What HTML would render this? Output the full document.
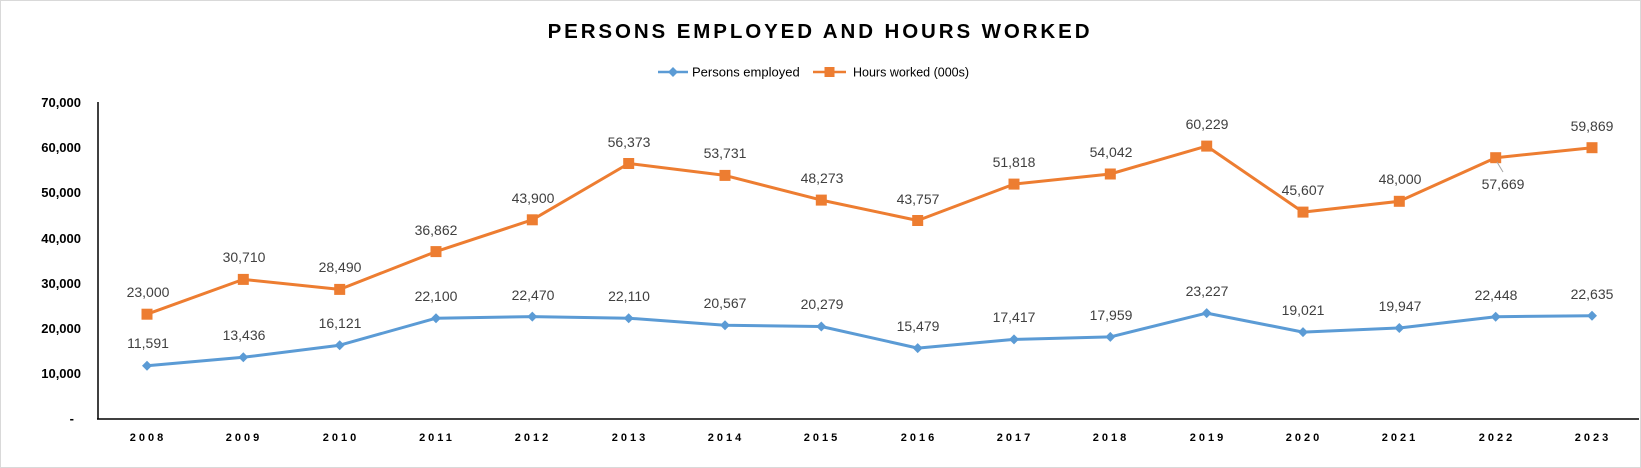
<!DOCTYPE html>
<html><head><meta charset="utf-8"><style>
html,body{margin:0;padding:0;background:#fff}
svg{display:block}
text{font-family:"Liberation Sans",sans-serif}
.dl{font-size:14px;fill:#404040;text-anchor:middle}
.yl{font-size:13px;font-weight:bold;fill:#000;text-anchor:end}
.xl{font-size:11px;font-weight:bold;fill:#000;text-anchor:middle;letter-spacing:3px}
</style></head><body>
<svg width="1641" height="468" viewBox="0 0 1641 468">
<rect x="0.5" y="0.5" width="1640" height="467" fill="#fff" stroke="#d9d9d9"/>
<text x="820" y="38" text-anchor="middle" font-size="20.5" font-weight="bold" letter-spacing="2.9" fill="#000">PERSONS EMPLOYED AND HOURS WORKED</text>
<line x1="658" y1="72" x2="688" y2="72" stroke="#5b9bd5" stroke-width="2.5"/>
<path d="M673 67 L678 72 L673 77 L668 72Z" fill="#5b9bd5"/>
<text x="692" y="76.5" font-size="13" fill="#000">Persons employed</text>
<line x1="813" y1="72" x2="846" y2="72" stroke="#ed7d31" stroke-width="2.5"/>
<rect x="824.5" y="67" width="10" height="10" fill="#ed7d31"/>
<text x="853" y="76.5" font-size="12.5" fill="#000">Hours worked (000s)</text>
<g>
<text class="yl" x="81" y="107">70,000</text>
<text class="yl" x="81" y="152">60,000</text>
<text class="yl" x="81" y="197">50,000</text>
<text class="yl" x="81" y="243">40,000</text>
<text class="yl" x="81" y="288">30,000</text>
<text class="yl" x="81" y="333">20,000</text>
<text class="yl" x="81" y="378">10,000</text>
<text class="yl" x="74" y="423">-</text>
</g>
<line x1="98" y1="102" x2="98" y2="419" stroke="#000" stroke-width="1.5"/>
<line x1="97" y1="419" x2="1639" y2="419" stroke="#000" stroke-width="1.5"/>
<g>
<text class="xl" x="148" y="441">2008</text><text class="xl" x="244" y="441">2009</text><text class="xl" x="341" y="441">2010</text><text class="xl" x="437" y="441">2011</text><text class="xl" x="533" y="441">2012</text><text class="xl" x="630" y="441">2013</text><text class="xl" x="726" y="441">2014</text><text class="xl" x="822" y="441">2015</text><text class="xl" x="919" y="441">2016</text><text class="xl" x="1015" y="441">2017</text><text class="xl" x="1111" y="441">2018</text><text class="xl" x="1208" y="441">2019</text><text class="xl" x="1304" y="441">2020</text><text class="xl" x="1400" y="441">2021</text><text class="xl" x="1497" y="441">2022</text><text class="xl" x="1593" y="441">2023</text>
</g>
<polyline fill="none" stroke="#5b9bd5" stroke-width="3" stroke-linejoin="round" points="147,365.7 243.3,357.3 339.7,345.2 436,318.2 532.3,316.6 628.7,318.2 725,325.2 821.3,326.5 917.7,348.1 1014,339.4 1110.3,336.9 1206.7,313.1 1303,332.1 1399.3,328 1495.7,316.7 1592,315.8"/>
<g fill="#5b9bd5">
<path d="M147 360.7l5 5-5 5-5-5z"/><path d="M243.3 352.3l5 5-5 5-5-5z"/><path d="M339.7 340.2l5 5-5 5-5-5z"/><path d="M436 313.2l5 5-5 5-5-5z"/><path d="M532.3 311.6l5 5-5 5-5-5z"/><path d="M628.7 313.2l5 5-5 5-5-5z"/><path d="M725 320.2l5 5-5 5-5-5z"/><path d="M821.3 321.5l5 5-5 5-5-5z"/><path d="M917.7 343.1l5 5-5 5-5-5z"/><path d="M1014 334.4l5 5-5 5-5-5z"/><path d="M1110.3 331.9l5 5-5 5-5-5z"/><path d="M1206.7 308.1l5 5-5 5-5-5z"/><path d="M1303 327.1l5 5-5 5-5-5z"/><path d="M1399.3 323l5 5-5 5-5-5z"/><path d="M1495.7 311.7l5 5-5 5-5-5z"/><path d="M1592 310.8l5 5-5 5-5-5z"/>
</g>
<polyline fill="none" stroke="#ed7d31" stroke-width="3" stroke-linejoin="round" points="147,314.2 243.3,279.4 339.7,289.4 436,251.6 532.3,219.8 628.7,163.5 725,175.4 821.3,200.1 917.7,220.5 1014,184.1 1110.3,174 1206.7,146.1 1303,212.1 1399.3,201.3 1495.7,157.7 1592,147.7"/>
<g fill="#ed7d31">
<rect x="141.5" y="308.7" width="11" height="11"/><rect x="237.8" y="273.9" width="11" height="11"/><rect x="334.2" y="283.9" width="11" height="11"/><rect x="430.5" y="246.1" width="11" height="11"/><rect x="526.8" y="214.3" width="11" height="11"/><rect x="623.2" y="158" width="11" height="11"/><rect x="719.5" y="169.9" width="11" height="11"/><rect x="815.8" y="194.6" width="11" height="11"/><rect x="912.2" y="215" width="11" height="11"/><rect x="1008.5" y="178.6" width="11" height="11"/><rect x="1104.8" y="168.5" width="11" height="11"/><rect x="1201.2" y="140.6" width="11" height="11"/><rect x="1297.5" y="206.6" width="11" height="11"/><rect x="1393.8" y="195.8" width="11" height="11"/><rect x="1490.2" y="152.2" width="11" height="11"/><rect x="1586.5" y="142.2" width="11" height="11"/>
</g>
<line x1="1497" y1="162" x2="1503" y2="172" stroke="#a6a6a6" stroke-width="1"/>
<g>
<text class="dl" x="148" y="348">11,591</text><text class="dl" x="244" y="340">13,436</text><text class="dl" x="340" y="328">16,121</text><text class="dl" x="436" y="301">22,100</text><text class="dl" x="533" y="300">22,470</text><text class="dl" x="629" y="301">22,110</text><text class="dl" x="725" y="308">20,567</text><text class="dl" x="822" y="309">20,279</text><text class="dl" x="918" y="331">15,479</text><text class="dl" x="1014" y="322">17,417</text><text class="dl" x="1111" y="320">17,959</text><text class="dl" x="1207" y="296">23,227</text><text class="dl" x="1303" y="315">19,021</text><text class="dl" x="1400" y="311">19,947</text><text class="dl" x="1496" y="300">22,448</text><text class="dl" x="1592" y="299">22,635</text>
<text class="dl" x="148" y="297">23,000</text><text class="dl" x="244" y="262">30,710</text><text class="dl" x="340" y="272">28,490</text><text class="dl" x="436" y="235">36,862</text><text class="dl" x="533" y="203">43,900</text><text class="dl" x="629" y="147">56,373</text><text class="dl" x="725" y="158">53,731</text><text class="dl" x="822" y="183">48,273</text><text class="dl" x="918" y="204">43,757</text><text class="dl" x="1014" y="167">51,818</text><text class="dl" x="1111" y="157">54,042</text><text class="dl" x="1207" y="129">60,229</text><text class="dl" x="1303" y="195">45,607</text><text class="dl" x="1400" y="184">48,000</text><text class="dl" x="1503" y="189">57,669</text><text class="dl" x="1592" y="131">59,869</text>
</g>
</svg>
</body></html>
